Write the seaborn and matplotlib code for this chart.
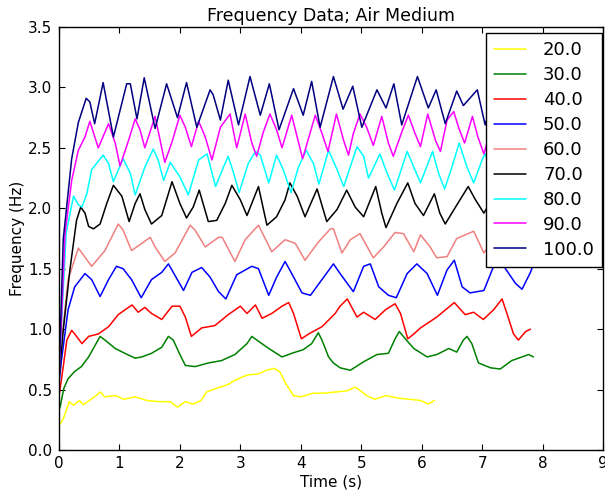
import matplotlib
matplotlib.use("Agg")
import matplotlib.pyplot as plt
import seaborn as sns
import pandas as pd

# Fan speed settings (legend labels) and their line colours
labels = ["20.0", "30.0", "40.0", "50.0", "60.0", "70.0", "80.0", "90.0", "100.0"]
colors = ["#FFFF00", "#008000", "#FF0000", "#0000FF", "#F08080",
          "#000000", "#00FFFF", "#FF00FF", "#000080"]

# Measured frequency traces, time in seconds / frequency in Hz
t20 = [0.02, 0.08, 0.17, 0.24, 0.34, 0.40, 0.53, 0.69, 0.75, 0.94,
       1.07, 1.26, 1.45, 1.65, 1.84, 1.96, 2.09, 2.22, 2.35, 2.44,
       2.60, 2.79, 2.92, 3.11, 3.30, 3.43, 3.56, 3.65, 3.75, 3.88,
       4.01, 4.20, 4.39, 4.58, 4.77, 4.90, 4.99, 5.09, 5.22, 5.41,
       5.60, 5.79, 5.98, 6.11, 6.21]
f20 = [0.215, 0.27, 0.40, 0.37, 0.41, 0.375, 0.42, 0.48, 0.44, 0.45,
       0.42, 0.44, 0.41, 0.40, 0.40, 0.355, 0.40, 0.38, 0.41, 0.48,
       0.51, 0.54, 0.58, 0.62, 0.63, 0.66, 0.675, 0.65, 0.55, 0.45,
       0.44, 0.47, 0.47, 0.48, 0.49, 0.52, 0.49, 0.45, 0.42, 0.45,
       0.43, 0.42, 0.41, 0.38, 0.41]

t30 = [0.0, 0.02, 0.08, 0.15, 0.26, 0.37, 0.49, 0.68, 0.76, 0.93,
       1.09, 1.26, 1.37, 1.53, 1.70, 1.81, 1.89, 2.00, 2.09, 2.25,
       2.47, 2.69, 2.91, 3.11, 3.19, 3.30, 3.47, 3.69, 3.85, 4.04,
       4.18, 4.29, 4.35, 4.46, 4.54, 4.65, 4.82, 5.04, 5.26, 5.45,
       5.56, 5.63, 5.73, 5.87, 6.09, 6.25, 6.45, 6.58, 6.69, 6.75,
       6.83, 6.94, 7.14, 7.30, 7.49, 7.66, 7.77, 7.85]
f30 = [0.33, 0.36, 0.51, 0.59, 0.65, 0.69, 0.77, 0.94, 0.91, 0.84,
       0.80, 0.76, 0.77, 0.80, 0.85, 0.94, 0.91, 0.79, 0.70, 0.69,
       0.72, 0.74, 0.79, 0.88, 0.94, 0.90, 0.84, 0.77, 0.80, 0.83,
       0.88, 0.97, 0.91, 0.77, 0.72, 0.68, 0.66, 0.73, 0.79, 0.80,
       0.92, 0.98, 0.92, 0.84, 0.77, 0.79, 0.84, 0.81, 0.91, 0.94,
       0.88, 0.72, 0.68, 0.67, 0.74, 0.77, 0.79, 0.77]

t40 = [0.0, 0.04, 0.13, 0.21, 0.26, 0.38, 0.49, 0.65, 0.82, 0.98,
       1.12, 1.21, 1.31, 1.42, 1.53, 1.70, 1.87, 2.00, 2.09, 2.19,
       2.36, 2.58, 2.80, 3.00, 3.11, 3.25, 3.36, 3.52, 3.69, 3.80,
       3.88, 4.01, 4.13, 4.35, 4.57, 4.65, 4.77, 4.93, 5.04, 5.23,
       5.40, 5.56, 5.65, 5.77, 5.87, 5.98, 6.25, 6.54, 6.72, 6.86,
       7.02, 7.19, 7.33, 7.41, 7.52, 7.60, 7.72, 7.80]
f40 = [0.45, 0.58, 0.91, 0.99, 0.96, 0.88, 0.94, 0.96, 1.02, 1.12,
       1.17, 1.20, 1.14, 1.18, 1.13, 1.08, 1.19, 1.19, 1.10, 0.94,
       1.01, 1.03, 1.12, 1.19, 1.13, 1.20, 1.09, 1.13, 1.19, 1.22,
       1.13, 0.92, 0.96, 1.02, 1.13, 1.19, 1.25, 1.10, 1.14, 1.08,
       1.16, 1.21, 1.13, 0.92, 0.96, 1.01, 1.10, 1.22, 1.12, 1.14,
       1.08, 1.16, 1.25, 1.13, 0.96, 0.91, 0.98, 1.00]

t50 = [0.0, 0.04, 0.15, 0.26, 0.43, 0.54, 0.68, 0.82, 0.95, 1.06,
       1.20, 1.36, 1.53, 1.70, 1.81, 1.89, 2.06, 2.20, 2.36, 2.50,
       2.64, 2.76, 2.94, 3.19, 3.30, 3.47, 3.60, 3.74, 3.85, 4.02,
       4.16, 4.35, 4.54, 4.65, 4.87, 5.04, 5.15, 5.29, 5.45, 5.58,
       5.76, 5.92, 6.09, 6.26, 6.42, 6.54, 6.67, 6.80, 7.03, 7.19,
       7.36, 7.55, 7.66, 7.80, 7.85]
f50 = [0.55, 0.74, 1.16, 1.35, 1.46, 1.41, 1.27, 1.41, 1.52, 1.50,
       1.41, 1.26, 1.41, 1.47, 1.54, 1.47, 1.32, 1.47, 1.51, 1.43,
       1.31, 1.25, 1.45, 1.52, 1.50, 1.28, 1.43, 1.56, 1.46, 1.30,
       1.28, 1.41, 1.54, 1.46, 1.31, 1.52, 1.54, 1.35, 1.28, 1.26,
       1.46, 1.54, 1.46, 1.28, 1.49, 1.57, 1.35, 1.30, 1.32, 1.52,
       1.52, 1.38, 1.33, 1.47, 1.54]

t60 = [0.0, 0.04, 0.15, 0.32, 0.54, 0.76, 0.98, 1.06, 1.20, 1.37,
       1.51, 1.59, 1.75, 1.92, 2.17, 2.25, 2.42, 2.64, 2.70, 2.91,
       3.08, 3.30, 3.52, 3.74, 3.91, 4.07, 4.29, 4.49, 4.54, 4.68,
       4.82, 4.98, 5.20, 5.37, 5.56, 5.70, 5.87, 5.98, 6.14, 6.25,
       6.42, 6.58, 6.72, 6.86, 7.03, 7.25, 7.45, 7.65, 7.85]
f60 = [0.60, 0.88, 1.41, 1.67, 1.52, 1.65, 1.87, 1.82, 1.65, 1.71,
       1.76, 1.68, 1.56, 1.63, 1.86, 1.82, 1.68, 1.76, 1.76, 1.56,
       1.74, 1.86, 1.64, 1.74, 1.71, 1.57, 1.72, 1.83, 1.83, 1.63,
       1.74, 1.79, 1.59, 1.68, 1.80, 1.79, 1.64, 1.78, 1.68, 1.59,
       1.60, 1.75, 1.78, 1.81, 1.63, 1.80, 1.62, 1.78, 1.65]

t70 = [0.0, 0.07, 0.18, 0.29, 0.36, 0.43, 0.49, 0.57, 0.68, 0.79,
       0.90, 1.04, 1.16, 1.26, 1.34, 1.42, 1.53, 1.70, 1.87, 2.00,
       2.11, 2.22, 2.32, 2.47, 2.61, 2.75, 2.86, 3.00, 3.11, 3.30,
       3.44, 3.60, 3.74, 3.82, 3.94, 4.07, 4.27, 4.43, 4.60, 4.76,
       4.90, 5.04, 5.24, 5.34, 5.41, 5.59, 5.77, 5.89, 6.03, 6.21,
       6.30, 6.39, 6.56, 6.77, 6.89, 7.03, 7.25, 7.45, 7.65, 7.85]
f70 = [0.60, 0.99, 1.49, 1.90, 2.01, 1.96, 1.85, 1.83, 1.87, 2.04,
       2.19, 2.10, 1.89, 2.04, 2.12, 1.99, 1.87, 1.94, 2.22, 2.04,
       1.92, 2.01, 2.15, 1.89, 1.90, 2.04, 2.19, 2.07, 1.94, 2.18,
       1.86, 1.93, 2.07, 2.21, 2.10, 1.93, 2.16, 1.89, 1.99, 2.15,
       2.01, 1.93, 2.18, 1.96, 1.84, 2.04, 2.21, 2.04, 1.94, 2.12,
       1.96, 1.87, 2.01, 2.18, 2.07, 1.96, 2.15, 1.90, 2.12, 1.95]

t80 = [0.0, 0.12, 0.24, 0.32, 0.38, 0.46, 0.54, 0.62, 0.73, 0.82,
       0.90, 1.06, 1.18, 1.26, 1.42, 1.56, 1.64, 1.73, 1.84, 2.00,
       2.14, 2.31, 2.45, 2.59, 2.72, 2.80, 2.89, 2.98, 3.13, 3.25,
       3.33, 3.47, 3.60, 3.71, 3.84, 3.96, 4.09, 4.21, 4.30, 4.46,
       4.60, 4.71, 4.93, 5.04, 5.12, 5.31, 5.42, 5.55, 5.76, 5.87,
       5.98, 6.18, 6.28, 6.38, 6.50, 6.62, 6.75, 6.86, 7.00, 7.05,
       7.25, 7.45, 7.65, 7.85]
f80 = [0.65, 1.80, 2.10, 2.03, 2.01, 2.12, 2.32, 2.37, 2.44, 2.37,
       2.22, 2.41, 2.29, 2.11, 2.34, 2.49, 2.40, 2.23, 2.38, 2.26,
       2.11, 2.40, 2.45, 2.18, 2.34, 2.43, 2.29, 2.13, 2.37, 2.47,
       2.44, 2.21, 2.44, 2.32, 2.13, 2.34, 2.48, 2.37, 2.20, 2.48,
       2.32, 2.18, 2.51, 2.43, 2.25, 2.45, 2.30, 2.15, 2.47, 2.34,
       2.21, 2.47, 2.29, 2.16, 2.34, 2.54, 2.34, 2.21, 2.40, 2.45,
       2.20, 2.45, 2.18, 2.40]

t90 = [0.0, 0.10, 0.21, 0.32, 0.43, 0.51, 0.65, 0.82, 0.93, 1.01,
       1.15, 1.26, 1.34, 1.42, 1.59, 1.75, 1.87, 2.00, 2.09, 2.19,
       2.31, 2.42, 2.53, 2.67, 2.83, 2.94, 3.08, 3.19, 3.27, 3.38,
       3.49, 3.60, 3.69, 3.85, 3.94, 4.03, 4.24, 4.35, 4.45, 4.59,
       4.71, 4.79, 4.87, 4.98, 5.09, 5.20, 5.34, 5.45, 5.53, 5.67,
       5.78, 5.89, 5.98, 6.10, 6.23, 6.31, 6.42, 6.53, 6.61, 6.71,
       6.84, 6.93, 7.03, 7.20, 7.40, 7.60, 7.85]
f90 = [0.60, 1.79, 2.23, 2.48, 2.59, 2.72, 2.50, 2.70, 2.54, 2.35,
       2.56, 2.74, 2.65, 2.50, 2.76, 2.38, 2.55, 2.77, 2.67, 2.51,
       2.72, 2.59, 2.40, 2.67, 2.78, 2.50, 2.78, 2.54, 2.43, 2.63,
       2.78, 2.65, 2.50, 2.77, 2.59, 2.41, 2.77, 2.62, 2.47, 2.78,
       2.56, 2.44, 2.62, 2.78, 2.67, 2.52, 2.76, 2.54, 2.43, 2.63,
       2.77, 2.62, 2.51, 2.78, 2.56, 2.47, 2.73, 2.80, 2.67, 2.54,
       2.76, 2.59, 2.45, 2.75, 2.48, 2.76, 2.50]

t100 = [0.0, 0.07, 0.21, 0.32, 0.45, 0.51, 0.59, 0.73, 0.90, 1.12,
        1.18, 1.29, 1.41, 1.59, 1.78, 1.96, 2.11, 2.28, 2.50, 2.55,
        2.67, 2.80, 2.97, 3.16, 3.33, 3.48, 3.64, 3.88, 4.04, 4.18,
        4.32, 4.54, 4.70, 4.86, 5.01, 5.26, 5.41, 5.54, 5.67, 5.93,
        6.11, 6.24, 6.39, 6.58, 6.69, 6.92, 7.05, 7.25, 7.45, 7.65,
        7.85]
f100 = [0.60, 1.74, 2.41, 2.71, 2.91, 2.88, 2.70, 3.04, 2.59, 3.03,
        3.03, 2.74, 3.08, 2.66, 3.03, 2.75, 3.04, 2.67, 2.98, 2.94,
        2.73, 3.06, 2.69, 3.09, 2.77, 3.03, 2.65, 2.99, 2.77, 3.05,
        2.67, 3.09, 2.82, 3.01, 2.67, 2.98, 2.83, 3.03, 2.69, 3.09,
        2.83, 2.98, 2.70, 2.97, 2.85, 2.98, 2.69, 3.02, 2.70, 3.02,
        2.75]

times = [t20, t30, t40, t50, t60, t70, t80, t90, t100]
freqs = [f20, f30, f40, f50, f60, f70, f80, f90, f100]

df = pd.concat(
    [pd.DataFrame({"Time (s)": t, "Frequency (Hz)": f, "Speed": lab})
     for lab, t, f in zip(labels, times, freqs)],
    ignore_index=True,
)

sns.set_theme(style="white")
plt.rcParams.update({
    "font.family": ["DejaVu Sans"],
    "axes.edgecolor": "black",
    "axes.linewidth": 1.0,
    "axes.labelcolor": "black",
    "text.color": "black",
    "xtick.color": "black",
    "ytick.color": "black",
    "xtick.direction": "in",
    "ytick.direction": "in",
    "xtick.top": True,
    "ytick.right": True,
    "xtick.bottom": True,
    "ytick.left": True,
    "xtick.major.size": 4,
    "ytick.major.size": 4,
    "xtick.major.width": 0.8,
    "ytick.major.width": 0.8,
    "xtick.labelsize": 11,
    "ytick.labelsize": 11,
})

fig = plt.figure(figsize=(6.05, 4.91), dpi=100)
ax = fig.add_axes([59 / 605, 41 / 491, 544 / 605, 423 / 491])

sns.lineplot(data=df, x="Time (s)", y="Frequency (Hz)", hue="Speed",
             hue_order=labels, palette=colors, sort=False, estimator=None,
             linewidth=1.1, ax=ax)

ax.set_xlim(0, 9)
ax.set_ylim(0, 3.5)
ax.set_xticks(range(0, 10))
ax.set_yticks([0.0, 0.5, 1.0, 1.5, 2.0, 2.5, 3.0, 3.5])
ax.set_yticklabels(["0.0", "0.5", "1.0", "1.5", "2.0", "2.5", "3.0", "3.5"])
ax.tick_params(axis="x", pad=4)
ax.tick_params(axis="y", pad=5)
ax.set_xlabel("Time (s)", fontsize=11, labelpad=3)
ax.set_ylabel("Frequency (Hz)", fontsize=11, labelpad=2)
ax.set_title("Frequency Data; Air Medium", fontsize=12.5, pad=4)

handles, labs = ax.get_legend_handles_labels()
leg = ax.legend(handles, labs, loc="upper right",
                bbox_to_anchor=(543 / 544, 417 / 423), borderaxespad=0.0,
                fontsize=13, frameon=True, fancybox=False, framealpha=1.0,
                edgecolor="black", labelspacing=0.385,
                handlelength=1.75, handletextpad=0.95, borderpad=0.45)
leg.get_frame().set_linewidth(1.0)
leg.set_zorder(5)

fig.savefig("out.png", dpi=100, facecolor="white")
